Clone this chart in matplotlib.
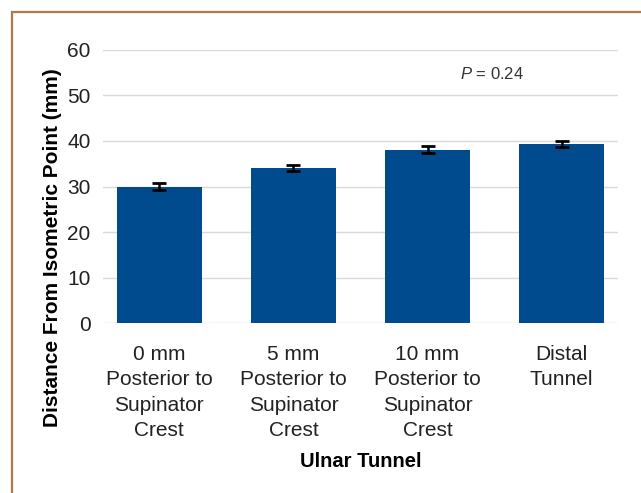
import matplotlib
matplotlib.use("Agg")
from matplotlib import pyplot as plt
from matplotlib.patches import Rectangle

plt.rcParams['font.family'] = ['Liberation Sans', 'DejaVu Sans']
plt.rcParams['mathtext.fontset'] = 'custom'
plt.rcParams['mathtext.it'] = 'Liberation Sans:italic'
plt.rcParams['mathtext.rm'] = 'Liberation Sans'

categories = ["0 mm\nPosterior to\nSupinator\nCrest",
              "5 mm\nPosterior to\nSupinator\nCrest",
              "10 mm\nPosterior to\nSupinator\nCrest",
              "Distal\nTunnel"]
distances = [30.0, 34.1, 38.1, 39.3]
errors = [0.7, 0.7, 0.7, 0.7]
yticks = [0, 10, 20, 30, 40, 50, 60]

fig = plt.figure(figsize=(6.41, 4.93), dpi=100)
ax = fig.add_axes([103 / 641, 0.3448, (618 - 103) / 641, 0.8986 - 0.3448])

x = range(len(categories))
ax.bar(x, distances, width=0.63, color='#004B8D', zorder=3)
ax.errorbar(x, distances, yerr=errors, fmt='none', ecolor='black',
            elinewidth=1.8, capsize=5, capthick=2, zorder=4)

ax.set_ylim(0, 60)
ax.set_xlim(-0.42, 3.42)
ax.set_yticks(yticks)
ax.yaxis.grid(True, color='#d9d9d9', linewidth=1, zorder=0)
for s in ax.spines.values():
    s.set_visible(False)
ax.tick_params(axis='both', length=0, labelsize=15, colors='#222222')
ax.tick_params(axis='y', pad=9)
ax.tick_params(axis='x', pad=16)
ax.set_xticks(list(x))
ax.set_xticklabels(categories, linespacing=1.41)

ax.set_ylabel("Distance From Isometric Point (mm)", fontsize=15,
              fontweight='bold')
ax.yaxis.set_label_coords(-0.08, 0.275)
ax.set_xlabel("Ulnar Tunnel", fontsize=14.5, fontweight='bold', labelpad=9)

ax.text(2.48, 54.7, "$\\it{P}$ = 0.24", fontsize=12, color='#333333',
        ha='center', va='center')

# outer frame (only top and left visible)
fig.patches.append(Rectangle((12 / 641, -0.1), 1.2, 0.1 + 1 - 12.5 / 493,
                             transform=fig.transFigure, fill=False,
                             edgecolor='#B07A45', linewidth=1.6))

plt.savefig('out.png', dpi=100)
